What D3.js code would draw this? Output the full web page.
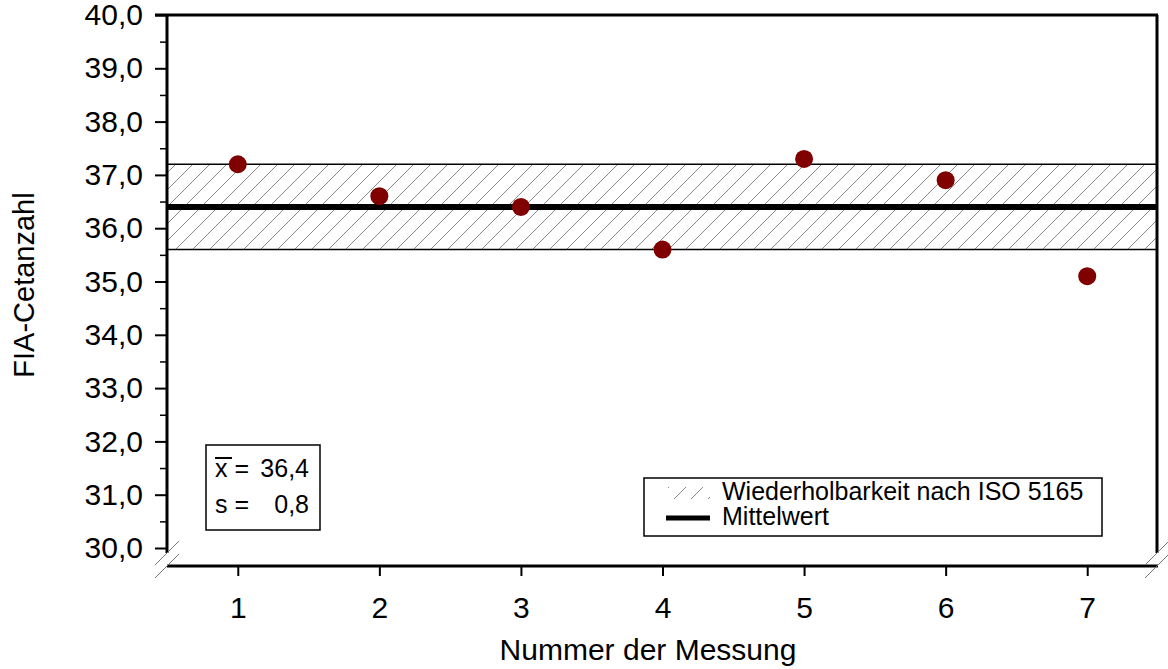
<!DOCTYPE html>
<html>
<head>
<meta charset="utf-8">
<script src="https://cdn.jsdelivr.net/npm/d3@7"></script>
<style>
  body { margin: 0; background: #fff; }
  text { font-family: "Liberation Sans", Arial, sans-serif; fill: #000; }
</style>
</head>
<body>
<div id="chart"></div>
<script>
// ===== Data =====
const messungen = [1, 2, 3, 4, 5, 6, 7];
const cetanzahl = [37.2, 36.6, 36.4, 35.6, 37.3, 36.9, 35.1];
const mittelwert = 36.4;
const streuung = 0.8;
const wiederholbarkeit = [35.6, 37.2];
const yTicks = [30, 31, 32, 33, 34, 35, 36, 37, 38, 39, 40];
const yMinorTicks = [30.5, 31.5, 32.5, 33.5, 34.5, 35.5, 36.5, 37.5, 38.5, 39.5];

const width = 1168, height = 669;
const plotLeft = 167, plotRight = 1158, plotTop = 15, plotBottom = 548;
const xAxisY = 566;
const font = "Liberation Sans, Arial, sans-serif";

const fmt = v => d3.format(".1f")(v).replace(".", ",");

const svg = d3.select("#chart").append("svg")
    .attr("width", width)
    .attr("height", height);

const x = d3.scaleLinear().domain([0.5, 7.5]).range([plotLeft, plotRight]);
const y = d3.scaleLinear().domain([30, 40]).range([plotBottom, plotTop]);

// hatch pattern
const defs = svg.append("defs");
const pat = defs.append("pattern")
    .attr("id", "hatch")
    .attr("patternUnits", "userSpaceOnUse")
    .attr("width", 17)
    .attr("height", 17);
pat.append("path")
    .attr("d", "M-2,19 L19,-2 M-4,4 L4,-4 M13,21 L21,13")
    .attr("stroke", "#8a8a8a")
    .attr("stroke-width", 1);

// ===== Band =====
svg.append("rect")
    .attr("x", plotLeft)
    .attr("width", plotRight - plotLeft)
    .attr("y", y(wiederholbarkeit[1]))
    .attr("height", y(wiederholbarkeit[0]) - y(wiederholbarkeit[1]))
    .attr("fill", "url(#hatch)");

wiederholbarkeit.forEach(v => {
    svg.append("line")
        .attr("x1", plotLeft).attr("x2", plotRight)
        .attr("y1", y(v)).attr("y2", y(v))
        .attr("stroke", "#000").attr("stroke-width", 1.5);
});

svg.append("line")
    .attr("x1", plotLeft).attr("x2", plotRight)
    .attr("y1", y(mittelwert)).attr("y2", y(mittelwert))
    .attr("stroke", "#000").attr("stroke-width", 6);

// ===== Frame =====
svg.append("line")
    .attr("x1", plotLeft - 12).attr("x2", plotRight)
    .attr("y1", plotTop).attr("y2", plotTop)
    .attr("stroke", "#000").attr("stroke-width", 3);
svg.append("line")
    .attr("x1", plotLeft).attr("x2", plotLeft)
    .attr("y1", plotTop).attr("y2", 553)
    .attr("stroke", "#000").attr("stroke-width", 3);
svg.append("line")
    .attr("x1", plotRight - 1).attr("x2", plotRight - 1)
    .attr("y1", plotTop).attr("y2", 553)
    .attr("stroke", "#000").attr("stroke-width", 3);
svg.append("line")
    .attr("x1", plotLeft).attr("x2", plotRight)
    .attr("y1", xAxisY).attr("y2", xAxisY)
    .attr("stroke", "#000").attr("stroke-width", 3);

// break marks
[[plotLeft, 553], [plotLeft, xAxisY], [plotRight - 1, 553], [plotRight - 1, xAxisY]].forEach(([cx, cy]) => {
    svg.append("line")
        .attr("x1", cx - 12).attr("y1", cy + 12)
        .attr("x2", cx + 12).attr("y2", cy - 12)
        .attr("stroke", "#777").attr("stroke-width", 1);
});

// ===== Y axis =====
const yAxis = d3.axisLeft(y).tickValues(yTicks).tickFormat(fmt).tickSize(12).tickPadding(12);
const gy = svg.append("g").attr("transform", `translate(${plotLeft},0)`).call(yAxis);
gy.select(".domain").remove();
gy.selectAll(".tick line").attr("stroke", "#000").attr("stroke-width", 2);
gy.selectAll(".tick text").style("font-size", "30px").style("font-family", font);

const gyMinor = svg.append("g").attr("transform", `translate(${plotLeft},0)`)
    .call(d3.axisLeft(y).tickValues(yMinorTicks).tickFormat("").tickSize(7));
gyMinor.select(".domain").remove();
gyMinor.selectAll(".tick line").attr("stroke", "#000").attr("stroke-width", 1.5);

// ===== X axis =====
const xAxis = d3.axisBottom(x).tickValues(messungen).tickFormat(d3.format("d")).tickSize(10).tickPadding(21);
const gx = svg.append("g").attr("transform", `translate(0,${xAxisY})`).call(xAxis);
gx.select(".domain").remove();
gx.selectAll(".tick line").attr("stroke", "#000").attr("stroke-width", 2);
gx.selectAll(".tick text").style("font-size", "30px").style("font-family", font);

// axis titles
svg.append("text")
    .attr("x", 648).attr("y", 660)
    .attr("text-anchor", "middle")
    .style("font-size", "30px")
    .text("Nummer der Messung");
svg.append("text")
    .attr("transform", "translate(34,285) rotate(-90)")
    .attr("text-anchor", "middle")
    .style("font-size", "29px")
    .text("FIA-Cetanzahl");

// ===== Points =====
svg.selectAll(".pt")
    .data(messungen)
    .enter().append("circle")
    .attr("class", "pt")
    .attr("cx", d => x(d))
    .attr("cy", (d, i) => y(cetanzahl[i]))
    .attr("r", 9)
    .attr("fill", "#800000");

// ===== Stats box =====
svg.append("rect")
    .attr("x", 206).attr("y", 445)
    .attr("width", 114).attr("height", 85)
    .attr("fill", "#fff").attr("stroke", "#000").attr("stroke-width", 1.5);
svg.append("text")
    .attr("x", 215).attr("y", 477)
    .style("font-size", "25px")
    .text("x =");
svg.append("text")
    .attr("x", 309).attr("y", 477)
    .attr("text-anchor", "end")
    .style("font-size", "25px")
    .text(fmt(mittelwert));
svg.append("line")
    .attr("x1", 215).attr("x2", 232)
    .attr("y1", 458).attr("y2", 458)
    .attr("stroke", "#000").attr("stroke-width", 2);
svg.append("text")
    .attr("x", 215).attr("y", 513)
    .style("font-size", "25px")
    .text("s =");
svg.append("text")
    .attr("x", 309).attr("y", 513)
    .attr("text-anchor", "end")
    .style("font-size", "25px")
    .text(fmt(streuung));

// ===== Legend =====
svg.append("rect")
    .attr("x", 644).attr("y", 478)
    .attr("width", 458).attr("height", 58)
    .attr("fill", "#fff").attr("stroke", "#000").attr("stroke-width", 1.5);
svg.append("rect")
    .attr("x", 668).attr("y", 487)
    .attr("width", 42).attr("height", 12)
    .attr("fill", "url(#hatch)");
svg.append("text")
    .attr("x", 722).attr("y", 500)
    .style("font-size", "25px")
    .text("Wiederholbarkeit nach ISO 5165");
svg.append("line")
    .attr("x1", 666).attr("x2", 710)
    .attr("y1", 518).attr("y2", 518)
    .attr("stroke", "#000").attr("stroke-width", 5);
svg.append("text")
    .attr("x", 722).attr("y", 525)
    .style("font-size", "25px")
    .text("Mittelwert");
</script>
</body>
</html>
